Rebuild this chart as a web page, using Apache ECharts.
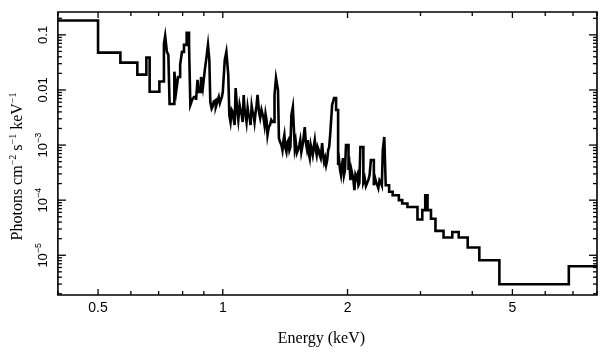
<!DOCTYPE html>
<html><head><meta charset="utf-8">
<script src="https://cdn.jsdelivr.net/npm/echarts@6/dist/echarts.min.js"></script>
<style>html,body{margin:0;padding:0;background:#fff}#c{width:609px;height:357px}</style>
</head><body><div id="c"></div>
<script>
// Spectrum bins: left edge energy (keV) and flux (photons cm^-2 s^-1 keV^-1)
const binLeftEdges = [0.4,0.5,0.566,0.622,0.654,0.666,0.703,0.721,0.726,0.733,
 0.739,0.744,0.764,0.772,0.780,0.789,0.797,0.806,0.818,0.829,
 0.835,0.843,0.852,0.862,0.869,0.876,0.886,0.895,0.905,0.913,
 0.921,0.928,0.933,0.940,0.946,0.951,0.957,0.962,0.967,0.973,
 0.978,0.984,0.989,0.995,1.0,1.011,1.020,1.031,1.037,1.044,
 1.051,1.057,1.063,1.068,1.074,1.083,1.090,1.098,1.104,1.111,
 1.117,1.123,1.129,1.135,1.141,1.148,1.154,1.161,1.167,1.174,
 1.180,1.187,1.193,1.200,1.206,1.213,1.223,1.231,1.240,1.247,
 1.254,1.261,1.268,1.275,1.282,1.291,1.300,1.309,1.318,1.333,
 1.344,1.359,1.366,1.375,1.385,1.393,1.401,1.408,1.416,1.424,
 1.432,1.440,1.448,1.456,1.464,1.476,1.492,1.500,1.509,1.519,
 1.530,1.538,1.547,1.555,1.564,1.577,1.586,1.595,1.603,1.612,
 1.621,1.630,1.639,1.648,1.657,1.667,1.676,1.685,1.694,1.704,
 1.713,1.723,1.737,1.746,1.756,1.766,1.776,1.786,1.796,1.806,
 1.816,1.836,1.856,1.877,1.898,1.908,1.919,1.929,1.940,1.950,
 1.961,1.972,1.983,2.011,2.022,2.033,2.044,2.056,2.067,2.078,
 2.090,2.102,2.113,2.125,2.136,2.148,2.184,2.200,2.215,2.230,
 2.245,2.261,2.277,2.315,2.331,2.347,2.360,2.373,2.389,2.406,
 2.420,2.433,2.453,2.473,2.52,2.57,2.66,2.71,2.79,2.95,
 3.03,3.08,3.12,3.18,3.26,3.41,3.58,3.71,3.90,4.16,
 4.65,6.84];
const binValues = [0.182,0.0477,0.0313,0.019,0.0387,0.0093,0.0142,0.0686,0.0959,0.0491,
 0.0433,0.00556,0.0215,0.0096,0.0172,0.0285,0.0491,0.0658,0.1087,0.0658,
 0.00534,0.00658,0.00746,0.00658,0.0152,0.0092,0.0172,0.01087,0.0231,0.0382,
 0.0658,0.0351,0.00605,0.0046,0.00512,0.0062,0.00658,0.0049,0.00556,0.0066,
 0.00746,0.0058,0.00658,0.0075,0.0092,0.0351,0.0491,0.0187,0.00351,0.00262,
 0.00433,0.00398,0.00285,0.00231,0.01087,0.00433,0.00285,0.00534,0.00433,0.00351,
 0.00262,0.00811,0.00433,0.00351,0.00262,0.00471,0.00351,0.0031,0.00231,0.00512,
 0.00398,0.00351,0.00262,0.00398,0.00512,0.00811,0.00398,0.0031,0.00433,0.00366,
 0.0031,0.00231,0.00366,0.00285,0.00152,0.00212,0.00231,0.00285,0.00262,0.00811,
 0.0165,0.01,0.00134,0.00113,0.001,0.00081,0.00123,0.00152,0.00088,0.00075,
 0.00113,0.00123,0.00081,0.00092,0.00351,0.00491,0.00088,0.00113,0.000715,0.00081,
 0.001,0.00123,0.000746,0.00092,0.00123,0.00212,0.00113,0.00088,0.00123,0.000715,
 0.00058,0.001,0.00081,0.000658,0.00092,0.00123,0.00081,0.000658,0.00092,0.00081,
 0.00066,0.00058,0.00109,0.00066,0.000491,0.00058,0.000433,0.00053,0.00081,0.00092,
 0.00152,0.00534,0.00715,0.00433,0.000433,0.000534,0.000351,0.000285,0.000433,0.00058,
 0.000285,0.00035,0.001,0.000351,0.00043,0.000231,0.00035,0.000285,0.000231,0.000152,
 0.000285,0.000251,0.000285,0.000187,0.000204,0.00092,0.000212,0.000251,0.00018,0.000204,
 0.000231,0.000285,0.000534,0.000187,0.000251,0.000204,0.000187,0.000165,0.000231,0.000212,
 0.000187,0.00081,0.0014,0.000187,1.42e-4,1.23e-4,1.0e-4,8.7e-5,7.5e-5,4.45e-5,
 6.6e-5,1.23e-4,6.6e-5,4.6e-5,2.77e-5,2.1e-5,2.65e-5,2.1e-5,1.38e-5,8.1e-6,
 2.97e-6,6.3e-6];
const lastEdge = 8.0;

const xRange = [0.4, 8];
const yRange = [1.9e-6, 0.26];
const xMajorTicks = [0.5, 1, 2, 5];
const xTickLabels = ['0.5', '1', '2', '5'];
const xMinorTicks = [0.4, 0.6, 0.7, 0.8, 0.9, 3, 4, 6, 7, 8];
const yMajorTicks = [1e-5, 1e-4, 1e-3, 1e-2, 1e-1];
const yTickLabels = ['{b|10}{s|−5}', '{b|10}{s|−4}', '{b|10}{s|−3}', '{b|0.01}', '{b|0.1}'];
const yMinorTicks = [];
[1e-6, 1e-5, 1e-4, 1e-3, 1e-2, 1e-1].forEach(d => {
  [2,3,4,5,6,7,8,9].forEach(m => { const v = m * d; if (v >= yRange[0] && v <= yRange[1]) yMinorTicks.push(v); });
});

const stepData = binLeftEdges.map((e, i) => [e, binValues[i]]);
stepData.push([lastEdge, binValues[binValues.length - 1]]);

const TICK = {stroke: '#000', lineWidth: 1.3};
function xTickSeries(values, len) {
  return {
    type: 'custom', silent: true, z: 6, clip: false,
    data: values.map(v => [v, yRange[0]]),
    renderItem: (params, api) => {
      const v = api.value(0);
      const b = api.coord([v, yRange[0]]);
      const t = api.coord([v, yRange[1]]);
      return {type: 'group', children: [
        {type: 'line', shape: {x1: b[0], y1: b[1], x2: b[0], y2: b[1] - len}, style: TICK},
        {type: 'line', shape: {x1: t[0], y1: t[1], x2: t[0], y2: t[1] + len}, style: TICK}
      ]};
    }
  };
}
function yTickSeries(values, len) {
  return {
    type: 'custom', silent: true, z: 6, clip: false,
    data: values.map(v => [xRange[0], v]),
    renderItem: (params, api) => {
      const v = api.value(1);
      const l = api.coord([xRange[0], v]);
      const r = api.coord([xRange[1], v]);
      return {type: 'group', children: [
        {type: 'line', shape: {x1: l[0], y1: l[1], x2: l[0] + len, y2: l[1]}, style: TICK},
        {type: 'line', shape: {x1: r[0], y1: r[1], x2: r[0] - len, y2: r[1]}, style: TICK}
      ]};
    }
  };
}

const chart = echarts.init(document.getElementById('c'), null, {renderer: 'canvas'});
chart.setOption({
  animation: false,
  backgroundColor: '#fff',
  grid: {left: 55, right: 12, top: 12, bottom: 62, show: true, borderColor: '#000', borderWidth: 1.6, backgroundColor: 'transparent'},
  xAxis: {
    type: 'log', logBase: 10, min: xRange[0], max: xRange[1],
    axisLine: {show: false}, axisTick: {show: false}, splitLine: {show: false},
    axisLabel: {show: false},
    name: 'Energy (keV)', nameLocation: 'middle', nameGap: 36,
    nameTextStyle: {fontFamily: 'Liberation Serif', fontSize: 16, color: '#000', padding: [0, 12, 0, 0]}
  },
  yAxis: {
    type: 'log', logBase: 10, min: yRange[0], max: yRange[1],
    axisLine: {show: false}, axisTick: {show: false}, splitLine: {show: false},
    axisLabel: {
      rotate: 90, margin: 8, color: '#000',
      formatter: v => {
        const lv = Math.log10(v);
        for (let i = 0; i < yMajorTicks.length; i++) {
          if (Math.abs(Math.log10(yMajorTicks[i]) - lv) < 0.01) return yTickLabels[i];
        }
        return '';
      },
      rich: {
        b: {fontFamily: 'Liberation Sans', fontSize: 13, color: '#000', lineHeight: 16, verticalAlign: 'bottom'},
        s: {fontFamily: 'Liberation Sans', fontSize: 9, color: '#000', lineHeight: 8, verticalAlign: 'top'}
      }
    },
    name: '{n|Photons cm}{s|−2}{n| s}{s|−1}{n| keV}{s|−1}',
    nameLocation: 'middle', nameRotate: 90, nameGap: 30,
    nameTextStyle: {
      padding: [0, 26, 0, 0],
      rich: {
        n: {fontFamily: 'Liberation Serif', fontSize: 16, color: '#000', lineHeight: 18, verticalAlign: 'bottom'},
        s: {fontFamily: 'Liberation Serif', fontSize: 10, color: '#000', lineHeight: 9, verticalAlign: 'top'}
      }
    }
  },
  series: [
    {
      type: 'line', data: stepData, step: 'end', showSymbol: false, symbol: 'none',
      lineStyle: {color: '#000', width: 2.6, join: 'miter'}, clip: true, z: 3
    },
    xTickSeries(xMajorTicks, 6),
    xTickSeries(xMinorTicks, 4),
    yTickSeries(yMajorTicks, 8),
    yTickSeries(yMinorTicks, 4),
    {
      type: 'custom', silent: true, clip: false, z: 6,
      data: xMajorTicks.map((v, i) => [v, yRange[0], i]),
      renderItem: (params, api) => {
        const p = api.coord([api.value(0), yRange[0]]);
        return {type: 'text', x: p[0], y: p[1] + 6, style: {
          text: xTickLabels[api.value(2)], textAlign: 'center', textVerticalAlign: 'top',
          fontFamily: 'Liberation Sans', fontSize: 14, fill: '#000'}};
      }
    }
  ]
});
</script>
</body></html>
